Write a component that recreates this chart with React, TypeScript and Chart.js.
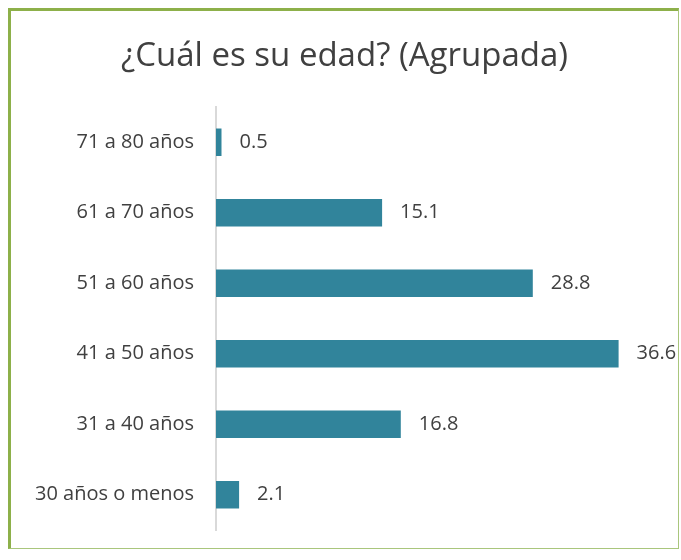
import React, { useEffect, useRef } from "react";
import { Chart, registerables } from "chart.js";

Chart.register(...registerables);

const categories = ["71 a 80 años", "61 a 70 años", "51 a 60 años", "41 a 50 años", "31 a 40 años", "30 años o menos"];
const values = [0.5, 15.1, 28.8, 36.6, 16.8, 2.1];
const titleText = "¿Cuál es su edad? (Agrupada)";

const FONT = "'Open Sans', Lato, sans-serif";
const TEXT = "#404040";

const valueLabels = {
  id: "valueLabels",
  afterDatasetsDraw(chart: any) {
    const ctx = chart.ctx;
    const meta = chart.getDatasetMeta(0);
    ctx.save();
    ctx.font = `20px ${FONT}`;
    ctx.fillStyle = TEXT;
    ctx.textAlign = "left";
    ctx.textBaseline = "middle";
    meta.data.forEach((bar: any, i: number) => {
      ctx.fillText(values[i].toFixed(1), bar.x + 18, bar.y);
    });
    ctx.restore();
  },
};

export default function App() {
  const ref = useRef<HTMLCanvasElement | null>(null);
  useEffect(() => {
    if (!ref.current) return;
    const chart = new Chart(ref.current, {
      type: "bar",
      data: {
        labels: categories,
        datasets: [
          {
            data: values,
            backgroundColor: "#31849B",
            categoryPercentage: 1,
            barPercentage: 0.39,
          },
        ],
      },
      options: {
        indexAxis: "y",
        animation: false,
        responsive: false,
        maintainAspectRatio: false,
        layout: { padding: { left: 0, right: 0, top: 0, bottom: 18 } },
        plugins: {
          legend: { display: false },
          tooltip: { enabled: false },
          title: {
            display: true,
            text: titleText,
            color: TEXT,
            font: { family: FONT, size: 33, weight: "normal", lineHeight: 1.2 },
            padding: { top: 26, bottom: 30.4 },
          },
        },
        scales: {
          x: { display: false, min: 0, max: 42 },
          y: {
            afterFit(scale: any) {
              scale.width = 205;
              scale.paddingTop = 0;
              scale.paddingBottom = 0;
            },
            grid: { display: false, drawTicks: false },
            border: { display: true, color: "#d9d9d9", width: 2 },
            ticks: { color: TEXT, font: { family: FONT, size: 20 }, padding: 22 },
          },
        },
      },
      plugins: [valueLabels],
    });
    return () => chart.destroy();
  }, []);
  return (
    <div
      style={{
        position: "absolute",
        left: 8,
        top: 8,
        width: 667,
        height: 537,
        borderLeft: "3px solid #8DB04A",
        borderTop: "3px solid #8DB04A",
        borderRight: "1px solid #A9C67C",
        borderBottom: "1px solid #A9C67C",
        background: "#fff",
      }}
    >
      <canvas ref={ref} width={667} height={537} style={{ display: "block" }} />
    </div>
  );
}
